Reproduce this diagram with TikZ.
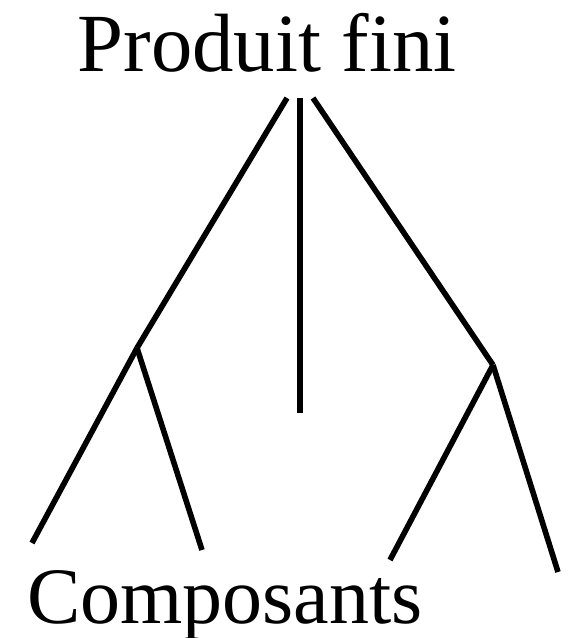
\documentclass[tikz,border=0pt]{standalone}
\usepackage{fontspec}
\setmainfont{Liberation Serif}
\usetikzlibrary{positioning}
\tikzset{branch/.style={line width=4.2pt},
  label/.style={font=\fontsize{62}{70}\selectfont,inner sep=0pt}}

\begin{document}
\begin{tikzpicture}[x=0.75pt,y=-0.75pt]
\useasboundingbox (0,0) rectangle (572,638);
\node[label,anchor=base] (prod) at (267,72) {Produit fini};
\node[label,anchor=base west,font=\fontsize{60}{68}\selectfont] (comp) at (27,623) {Composants};
\coordinate (tl) at (287,98);
\coordinate (tm) at (300,98);
\coordinate (tr) at (313,98);
\coordinate (jl) at (137,348);
\coordinate (jr) at (493,365);
\coordinate (mid) at (300,413);
\coordinate (l1) at (32,543);
\coordinate (l2) at (202,550);
\coordinate (r1) at (390,560);
\coordinate (r2) at (558,572);
\draw[branch] (tl) -- (jl);
\draw[branch] (tm) -- (mid);
\draw[branch] (tr) -- (jr);
\draw[branch] (jl) -- (l1);
\draw[branch] (jl) -- (l2);
\draw[branch] (jr) -- (r1);
\draw[branch] (jr) -- (r2);
\end{tikzpicture}
\end{document}
